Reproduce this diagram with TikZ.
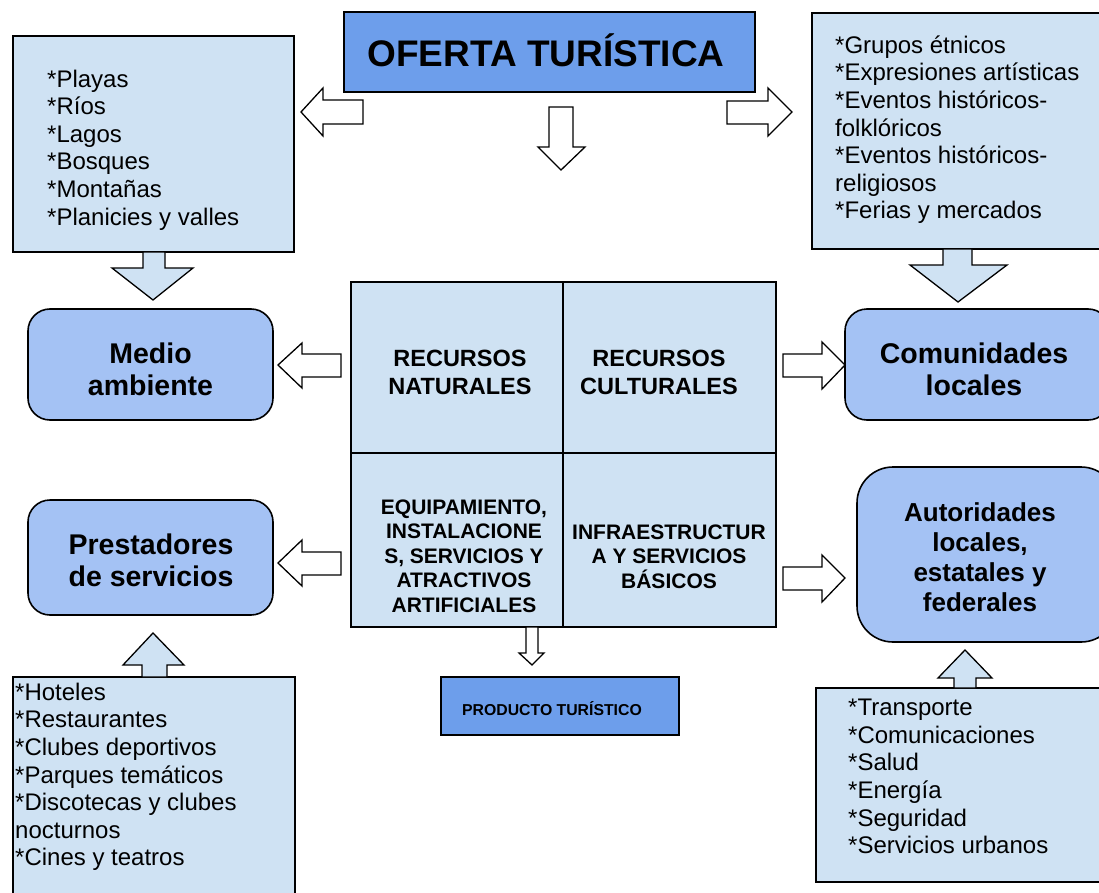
\documentclass[tikz,border=0pt]{standalone}
\usepackage{fontspec}
\setmainfont{Liberation Sans}
\definecolor{tblue}{HTML}{6D9EEB}
\definecolor{mblue}{HTML}{A4C2F4}
\definecolor{lblue}{HTML}{CFE2F3}
\begin{document}
\begin{tikzpicture}[x=1pt,y=-1pt,
  box/.style={draw=black, line width=1.6pt, rectangle, inner sep=0pt, outer sep=0pt, anchor=north west},
  lbox/.style={box, fill=lblue},
  tbox/.style={box, fill=tblue},
  rbox/.style={box, fill=mblue, rounded corners=22pt},
  lst/.style={anchor=north west, inner sep=0pt, align=left, font=\fontsize{24}{27.6}\selectfont},
  btxt/.style={inner sep=0pt, align=center, font=\bfseries\fontsize{28.5}{31.7}\selectfont},
  ctxt/.style={inner sep=0pt, align=center, font=\bfseries\fontsize{23.5}{28}\selectfont},
  dtxt/.style={inner sep=0pt, align=center, font=\bfseries\fontsize{21}{24.4}\selectfont},
  harrow/.style={draw=black, fill=white, line width=1.3pt, line join=miter},
  farrow/.style={draw=black, fill=lblue, line width=1.3pt, line join=miter}
]
\useasboundingbox (0,0) rectangle (1099,893);
\fill[white] (0,0) rectangle (1099,893);

% title
\node[tbox, minimum width=411pt, minimum height=80pt] (oferta) at (344,12) {};
\node[anchor=base, inner sep=0pt, font=\bfseries\fontsize{37}{40}\selectfont] (ofertat) at (546,66.7) {OFERTA TURÍSTICA};

% list boxes
\node[lbox, minimum width=281pt, minimum height=216pt] (nat) at (13,36) {};
\node[lst] (natt) at (47,67.6) {\strut*Playas\\\strut*Ríos\\\strut*Lagos\\\strut*Bosques\\\strut*Montañas\\\strut*Planicies y valles};

\node[lbox, minimum width=300pt, minimum height=236pt] (cult) at (812,13) {};
\node[lst] (cultt) at (835,33.7) {\strut*Grupos étnicos\\\strut*Expresiones artísticas\\\strut*Eventos históricos-\\\strut folklóricos\\\strut*Eventos históricos-\\\strut religiosos\\\strut*Ferias y mercados};

\node[lbox, minimum width=282pt, minimum height=230pt] (serv) at (13,677) {};
\node[lst] (servt) at (15,680.8) {\strut*Hoteles\\\strut*Restaurantes\\\strut*Clubes deportivos\\\strut*Parques temáticos\\\strut*Discotecas y clubes\\\strut nocturnos\\\strut*Cines y teatros};

\node[lbox, minimum width=300pt, minimum height=194pt] (infra) at (816,688) {};
\node[lst] (infrat) at (848,696.2) {\strut*Transporte\\\strut*Comunicaciones\\\strut*Salud\\\strut*Energía\\\strut*Seguridad\\\strut*Servicios urbanos};

% rounded boxes
\node[rbox, minimum width=245pt, minimum height=111pt] (medio) at (28,309) {};
\node[btxt] (mediot) at (150.5,369) {Medio\\ambiente};
\node[rbox, minimum width=245pt, minimum height=115pt] (prest) at (28,500) {};
\node[btxt] (prestt) at (151,560.5) {Prestadores\\de servicios};
\node[rbox, minimum width=265pt, minimum height=111pt] (comu) at (845,309) {};
\node[btxt] (comut) at (974,369) {Comunidades\\locales};
\node[rbox, rounded corners=36pt, minimum width=260pt, minimum height=175pt] (auto) at (857,467) {};
\node[btxt, font=\bfseries\fontsize{26}{30}\selectfont] (autot) at (980,557.5) {Autoridades\\locales,\\estatales y\\federales};

% central grid
\node[lbox, minimum width=212pt, minimum height=171pt] (c1) at (351,282) {};
\node[lbox, minimum width=213pt, minimum height=171pt] (c2) at (563,282) {};
\node[lbox, minimum width=212pt, minimum height=174pt] (c3) at (351,453) {};
\node[lbox, minimum width=213pt, minimum height=174pt] (c4) at (563,453) {};
\node[ctxt] (c1t) at (460,372) {RECURSOS\\NATURALES};
\node[ctxt] (c2t) at (659,372) {RECURSOS\\CULTURALES};
\node[dtxt] (c3t) at (464,556) {EQUIPAMIENTO,\\INSTALACIONE\\S, SERVICIOS Y\\ATRACTIVOS\\ARTIFICIALES};
\node[dtxt] (c4t) at (669,556.5) {INFRAESTRUCTUR\\A Y SERVICIOS\\BÁSICOS};

% product
\node[tbox, minimum width=238pt, minimum height=58pt] (prod) at (441,677) {};
\node[anchor=base, inner sep=0pt, font=\bfseries\fontsize{15.8}{18}\selectfont] (prodt) at (552,715) {PRODUCTO TURÍSTICO};

% hollow arrows from title
\draw[harrow] (301,112) -- (323,88) -- (323,100) -- (363,100) -- (363,124) -- (323,124) -- (323,136) -- cycle;
\draw[harrow] (792,112) -- (768,88) -- (768,101) -- (727,101) -- (727,124) -- (768,124) -- (768,136) -- cycle;
\draw[harrow] (549,107) -- (573,107) -- (573,147) -- (585,147) -- (561,170) -- (538,147) -- (549,147) -- cycle;

% hollow arrows from grid
\draw[harrow] (278,365) -- (302,343) -- (302,354) -- (341,354) -- (341,377) -- (302,377) -- (302,388) -- cycle;
\draw[harrow] (278,563) -- (302,540) -- (302,552) -- (341,552) -- (341,575) -- (302,575) -- (302,586) -- cycle;
\draw[harrow] (845,365) -- (822,342) -- (822,354) -- (783,354) -- (783,377) -- (822,377) -- (822,389) -- cycle;
\draw[harrow] (845,578) -- (822,555) -- (822,567) -- (783,567) -- (783,590) -- (822,590) -- (822,602) -- cycle;
\draw[harrow] (526,627) -- (538,627) -- (538,653) -- (544,653) -- (532,665) -- (519,653) -- (526,653) -- cycle;

% filled arrows from list boxes
\draw[farrow] (143,252) -- (143,268) -- (112,268) -- (153,300) -- (193,268) -- (165,268) -- (165,252) -- cycle;
\draw[farrow] (943,249) -- (943,265) -- (910,265) -- (958,302) -- (1007,265) -- (972,265) -- (972,249) -- cycle;
\draw[farrow] (142,677) -- (142,665) -- (123,665) -- (153,633) -- (184,665) -- (167,665) -- (167,677) -- cycle;
\draw[farrow] (954,688) -- (954,678) -- (938,678) -- (965,650) -- (992,678) -- (976,678) -- (976,688) -- cycle;
\end{tikzpicture}
\end{document}
